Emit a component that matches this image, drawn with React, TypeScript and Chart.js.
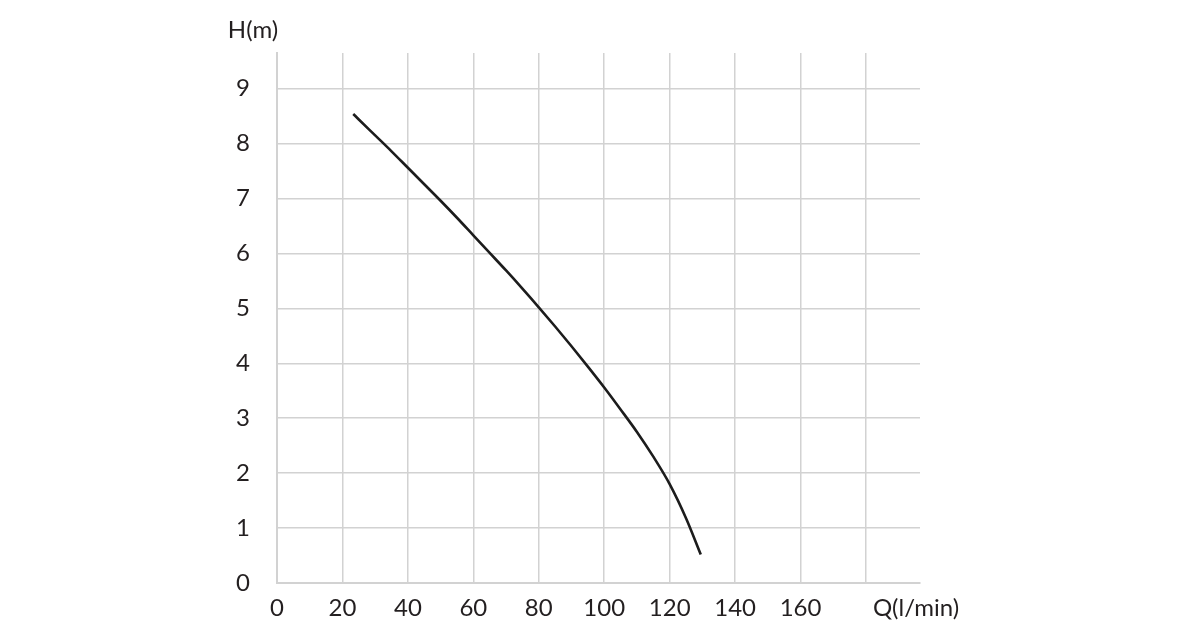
import { useEffect, useRef } from 'react';
import { Chart, registerables } from 'chart.js';

Chart.register(...registerables);

// pump curve: flow Q (l/min) vs head H (m)
const flow = [23.3, 25, 30, 35, 40, 45, 50, 55, 60, 65, 70, 75, 80, 85, 90, 95, 100, 105, 110, 115, 120, 125, 129.5];
const head = [8.54, 8.44, 8.15, 7.86, 7.56, 7.26, 6.96, 6.65, 6.33, 6.01, 5.69, 5.36, 5.02, 4.67, 4.31, 3.94, 3.56, 3.16, 2.75, 2.3, 1.8, 1.18, 0.52];

const xTicks = [0, 20, 40, 60, 80, 100, 120, 140, 160, 180, 195.3];
const xTickLabels = ['0', '20', '40', '60', '80', '100', '120', '140', '160', '', 'Q(l/min)'];
const yTickLabels = ['0', '1', '2', '3', '4', '5', '6', '7', '8', '9'];

const gridColor = '#d2d2d2';
const textColor = '#231f20';
const fontFamily = 'Lato, "Noto Sans", sans-serif';

const headLabel = {
  id: 'headLabel',
  afterDraw(chart: Chart) {
    const { ctx } = chart;
    const y = chart.scales.y;
    ctx.save();
    ctx.font = `24px ${fontFamily}`;
    ctx.fillStyle = textColor;
    ctx.textAlign = 'center';
    ctx.textBaseline = 'middle';
    ctx.fillText('H(m)', y.right - 24, 30);
    ctx.restore();
  },
};

export default function App() {
  const chartRef = useRef<HTMLCanvasElement>(null);
  const chartInstance = useRef<Chart | null>(null);

  useEffect(() => {
    if (!chartRef.current) return;
    if (chartInstance.current) chartInstance.current.destroy();
    const ctx = chartRef.current.getContext('2d');
    if (!ctx) return;

    chartInstance.current = new Chart(ctx, {
      type: 'scatter',
      data: {
        datasets: [
          {
            data: flow.map((q, i) => ({ x: q, y: head[i] })),
            showLine: true,
            borderColor: '#1c1c1c',
            borderWidth: 2.6,
            pointRadius: 0,
            cubicInterpolationMode: 'monotone',
          },
        ],
      },
      options: {
        responsive: true,
        maintainAspectRatio: false,
        animation: false,
        layout: { padding: { left: 0, top: 53, right: 280, bottom: 0 } },
        plugins: {
          legend: { display: false },
          tooltip: { enabled: false },
        },
        scales: {
          x: {
            type: 'linear',
            min: 0,
            max: 196.5,
            afterBuildTicks: (scale: any) => {
              scale.ticks = xTicks.map(v => ({ value: v }));
            },
            afterFit: (scale: any) => {
              scale.height = 47;
            },
            grid: {
              color: (c: any) => (c.tick && c.tick.value > 190 ? 'transparent' : gridColor),
              lineWidth: 1.5,
              drawTicks: false,
            },
            border: { color: gridColor, width: 2 },
            ticks: {
              autoSkip: false,
              maxRotation: 0,
              padding: 11,
              color: textColor,
              font: { family: fontFamily, size: 24 },
              callback: (_v: any, i: number) => xTickLabels[i],
            },
          },
          y: {
            type: 'linear',
            min: 0,
            max: 9.65,
            afterFit: (scale: any) => {
              scale.width = 277;
            },
            grid: { color: gridColor, lineWidth: 1.5, drawTicks: false },
            border: { color: gridColor, width: 2 },
            ticks: {
              stepSize: 1,
              includeBounds: false,
              padding: 27,
              color: textColor,
              font: { family: fontFamily, size: 24 },
              callback: (v: any) => yTickLabels[Math.round(Number(v))] ?? '',
            },
          },
        },
      },
      plugins: [headLabel],
    });

    return () => {
      if (chartInstance.current) {
        chartInstance.current.destroy();
        chartInstance.current = null;
      }
    };
  }, []);

  return (
    <div style={{ position: 'absolute', left: 0, top: 0, width: 1200, height: 630, background: '#fff' }}>
      <canvas ref={chartRef} />
    </div>
  );
}
